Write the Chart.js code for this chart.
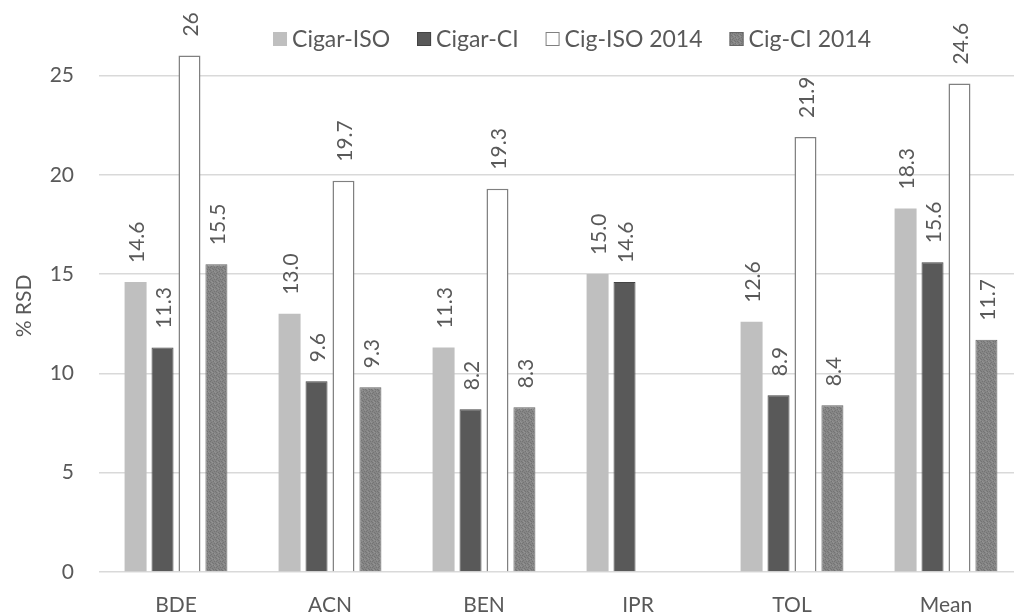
<!DOCTYPE html>
<html>
<head>
<meta charset="utf-8">
<script src="https://cdn.jsdelivr.net/npm/chart.js@4.4.1/dist/chart.umd.min.js"></script>
<style>
  html, body { margin: 0; padding: 0; background: #fff; overflow: hidden; }
  #wrap { position: relative; width: 1014px; height: 616px; overflow: hidden; }
  #wrap canvas { position: absolute; left: 0; top: 0; }
</style>
</head>
<body>
<div id="wrap"><canvas id="rsd" width="1030" height="616"></canvas></div>
<script>
// Relative standard deviation (%) per analyte
const categories = ['BDE', 'ACN', 'BEN', 'IPR', 'TOL', 'Mean'];
const seriesNames = ['Cigar-ISO', 'Cigar-CI', 'Cig-ISO 2014', 'Cig-CI 2014'];
const cigarIso   = [14.6, 13.0, 11.3, 15.0, 12.6, 18.3];
const cigarCi    = [11.3, 9.6, 8.2, 14.6, 8.9, 15.6];
const cigIso2014 = [26, 19.7, 19.3, null, 21.9, 24.6];
const cigCi2014  = [15.5, 9.3, 8.3, null, 8.4, 11.7];
const yTicks = [0, 5, 10, 15, 20, 25];
const yTitle = '% RSD';

const FONT = 'Lato, "Open Sans", sans-serif';
const TEXT = '#595959';

// label formats: fixed one decimal, except the 2014 ISO series (general format)
const fixed1 = v => v.toFixed(1);
const general = v => String(v);
const labelFormats = [fixed1, fixed1, general, fixed1];

// fine dotted fill used for the Cig-CI 2014 bars
function dottedGray() {
  const p = document.createElement('canvas');
  p.width = 6; p.height = 6;
  const g = p.getContext('2d');
  g.fillStyle = '#858585';
  g.fillRect(0, 0, 6, 6);
  g.fillStyle = '#747474';
  [[0,0],[3,1],[1,2],[4,3],[2,4],[5,5],[0,3],[3,5]].forEach(([x, y]) => g.fillRect(x, y, 1, 1));
  g.fillStyle = '#939393';
  [[2,0],[5,2],[1,5],[4,1]].forEach(([x, y]) => g.fillRect(x, y, 1, 1));
  return g.createPattern(p, 'repeat');
}

const valueLabels = {
  id: 'valueLabels',
  afterDatasetsDraw(chart) {
    const c = chart.ctx;
    chart.data.datasets.forEach((ds, i) => {
      const meta = chart.getDatasetMeta(i);
      meta.data.forEach((bar, j) => {
        const v = ds.data[j];
        if (v == null || !isFinite(bar.y)) return;
        c.save();
        c.translate(bar.x + 2, bar.y - 19);
        c.rotate(-Math.PI / 2);
        c.font = '21px ' + FONT;
        c.fillStyle = TEXT;
        c.textAlign = 'left';
        c.textBaseline = 'middle';
        c.fillText(labelFormats[i](v), 0, 0);
        c.restore();
      });
    });
  }
};

const topLegend = {
  id: 'topLegend',
  afterDraw(chart) {
    const c = chart.ctx;
    const ds = chart.data.datasets;
    const box = 14, boxGap = 5, itemGap = 27, cy = 39;
    c.save();
    c.font = '23px ' + FONT;
    const widths = ds.map(d => c.measureText(d.label).width);
    const total = widths.reduce((a, w) => a + box + boxGap + w, 0) + itemGap * (ds.length - 1);
    let x = 572 - total / 2;
    ds.forEach((d, i) => {
      c.fillStyle = d.backgroundColor;
      c.fillRect(x, cy - box / 2, box, box);
      if (d.borderWidth) {
        c.strokeStyle = d.borderColor;
        c.lineWidth = 1;
        c.strokeRect(x + 0.5, cy - box / 2 + 0.5, box - 1, box - 1);
      }
      c.fillStyle = TEXT;
      c.textAlign = 'left';
      c.textBaseline = 'middle';
      c.fillText(d.label, x + box + boxGap, cy + 1);
      x += box + boxGap + widths[i] + itemGap;
    });
    c.restore();
  }
};

const axisTitle = {
  id: 'axisTitle',
  afterDraw(chart) {
    const c = chart.ctx;
    c.save();
    c.translate(24, 306);
    c.rotate(-Math.PI / 2);
    c.font = '21px ' + FONT;
    c.fillStyle = TEXT;
    c.textAlign = 'center';
    c.textBaseline = 'middle';
    c.fillText(yTitle, 0, 0);
    c.restore();
  }
};

new Chart(document.getElementById('rsd'), {
  type: 'bar',
  data: {
    labels: categories,
    datasets: [
      { label: seriesNames[0], data: cigarIso, backgroundColor: '#bfbfbf', borderWidth: 0 },
      { label: seriesNames[1], data: cigarCi, backgroundColor: '#595959', borderColor: '#444444', borderWidth: 1 },
      { label: seriesNames[2], data: cigIso2014, backgroundColor: '#ffffff', borderColor: '#808080', borderWidth: 1.5 },
      { label: seriesNames[3], data: cigCi2014, backgroundColor: dottedGray(), borderColor: '#666666', borderWidth: 1 }
    ]
  },
  options: {
    responsive: false,
    devicePixelRatio: 1,
    animation: false,
    layout: { padding: { left: 0, right: 7, top: 0, bottom: 0 } },
    datasets: { bar: { categoryPercentage: 0.7, barPercentage: 0.816 } },
    plugins: { legend: { display: false }, tooltip: { enabled: false } },
    scales: {
      x: {
        grid: { display: false },
        border: { display: false },
        ticks: { font: { family: FONT, size: 21 }, color: TEXT, padding: 13 },
        afterFit(s) { s.height = 44; s.paddingLeft = 0; s.paddingRight = 0; }
      },
      y: {
        min: 0,
        max: 28.8,
        afterBuildTicks(s) { s.ticks = yTicks.map(v => ({ value: v })); },
        grid: { color: '#d9d9d9', lineWidth: 1.5, drawTicks: false },
        border: { display: false },
        ticks: { font: { family: FONT, size: 21 }, color: TEXT, padding: 25 },
        afterFit(s) { s.width = 99; s.paddingTop = 0; s.paddingBottom = 0; }
      }
    }
  },
  plugins: [valueLabels, topLegend, axisTitle]
});
</script>
</body>
</html>
